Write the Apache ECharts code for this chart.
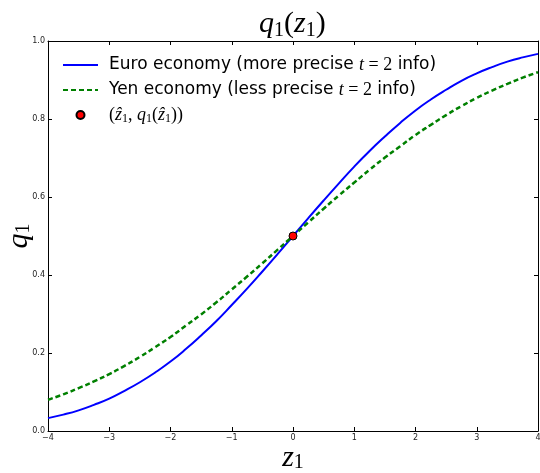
<!DOCTYPE html>
<html>
<head>
<meta charset="utf-8">
<script src="https://cdn.jsdelivr.net/npm/echarts@6/dist/echarts.min.js"></script>
<style>html,body{margin:0;padding:0;background:#fff}#c{width:540px;height:473px}</style>
</head>
<body>
<div id="c"></div>
<script>
const zValues = [-4, -3.75, -3.5, -3.25, -3, -2.75, -2.5, -2.25, -2, -1.75, -1.5, -1.25, -1, -0.75, -0.5, -0.25, 0,
  0.25, 0.5, 0.75, 1, 1.25, 1.5, 1.75, 2, 2.25, 2.5, 2.75, 3, 3.25, 3.5, 3.75, 4];
const euroQ = [0.033, 0.042, 0.053, 0.067, 0.083, 0.103, 0.125, 0.150, 0.178, 0.210, 0.245, 0.282, 0.323, 0.365, 0.409, 0.454, 0.500,
  0.546, 0.591, 0.635, 0.678, 0.718, 0.755, 0.790, 0.822, 0.850, 0.875, 0.898, 0.917, 0.933, 0.947, 0.958, 0.967];
const yenQ = [0.080, 0.094, 0.110, 0.127, 0.146, 0.167, 0.190, 0.215, 0.241, 0.270, 0.299, 0.330, 0.363, 0.396, 0.430, 0.465, 0.500,
  0.535, 0.570, 0.604, 0.637, 0.670, 0.701, 0.730, 0.759, 0.785, 0.810, 0.833, 0.854, 0.873, 0.890, 0.906, 0.920];
const pointZ = [0];
const pointQ = [0.5];
const xTickLabels = ['\u22124', '\u22123', '\u22122', '\u22121', '0', '1', '2', '3', '4'];
const yTickLabels = ['0.0', '0.2', '0.4', '0.6', '0.8', '1.0'];

const serif = "'Liberation Serif', 'DejaVu Serif', serif";
const sans = "'DejaVu Sans', sans-serif";

const chart = echarts.init(document.getElementById('c'), null, {renderer: 'canvas'});

const legendLabels = {
  'Euro': '{n|Euro economy (more precise }{m|t}{r| = 2}{n| info)}',
  'Yen': '{n|Yen economy (less precise }{m|t}{r| = 2}{n| info)}',
  'Point': '{r|(}{m|\u1E91}{s|1}{r|, }{m|q}{s|1}{r|(}{m|\u1E91}{s|1}{r|))}'
};

const axisCommon = {
  type: 'value',
  axisLine: {show: true, onZero: false, lineStyle: {color: '#000', width: 1}},
  axisTick: {show: true, inside: true, length: 4, lineStyle: {color: '#000', width: 1}},
  splitLine: {show: false}
};

chart.setOption({
  animation: false,
  backgroundColor: '#fff',
  title: {
    text: '{m|q}{s|1}{r|(}{m|z}{s|1}{r|)}',
    left: 254,
    top: 3,
    textStyle: {
      fontWeight: 'normal',
      rich: {
        m: {fontFamily: serif, fontStyle: 'italic', fontWeight: 'normal', fontSize: 30, lineHeight: 33, color: '#000'},
        r: {fontFamily: serif, fontWeight: 'normal', fontSize: 30, lineHeight: 33, color: '#000'},
        s: {fontFamily: serif, fontWeight: 'normal', fontSize: 20, lineHeight: 16, verticalAlign: 'bottom', color: '#000'}
      }
    }
  },
  grid: {left: 48, right: 2, top: 41, bottom: 42, containLabel: false, outerBoundsMode: 'none'},
  legend: {
    orient: 'vertical',
    left: 62,
    top: 55,
    padding: 0,
    itemWidth: 35,
    itemHeight: 8,
    itemGap: 5,
    data: [
      {name: 'Euro', itemStyle: {opacity: 0}},
      {name: 'Yen', itemStyle: {opacity: 0}},
      {name: 'Point', icon: 'circle'}
    ],
    formatter: name => legendLabels[name],
    textStyle: {
      padding: [0, 0, 0, 6],
      lineHeight: 20,
      rich: {
        n: {fontFamily: sans, fontSize: 17, lineHeight: 20, color: '#000'},
        r: {fontFamily: serif, fontSize: 18, lineHeight: 20, color: '#000'},
        m: {fontFamily: serif, fontStyle: 'italic', fontSize: 18, lineHeight: 20, color: '#000'},
        s: {fontFamily: serif, fontSize: 12, lineHeight: 12, verticalAlign: 'bottom', color: '#000'}
      }
    }
  },
  xAxis: [
    Object.assign({}, axisCommon, {
      min: -4, max: 4, interval: 1, position: 'bottom',
      axisLabel: {show: true, fontFamily: sans, fontSize: 8, color: '#222', margin: 3,
        formatter: v => xTickLabels[Math.round(v) + 4]},
      name: '{m|z}{s|1}',
      nameLocation: 'middle',
      nameGap: 12,
      nameMoveOverlap: false,
      nameTextStyle: {
        rich: {
          m: {fontFamily: serif, fontStyle: 'italic', fontSize: 30, lineHeight: 30, color: '#000'},
          s: {fontFamily: serif, fontSize: 20, lineHeight: 16, verticalAlign: 'bottom', color: '#000'}
        }
      }
    }),
    Object.assign({}, axisCommon, {
      min: -4, max: 4, interval: 1, position: 'top',
      axisLabel: {show: false}
    })
  ],
  yAxis: [
    Object.assign({}, axisCommon, {
      min: 0, max: 1, interval: 0.2, position: 'left',
      axisLabel: {show: true, fontFamily: sans, fontSize: 8, color: '#222', margin: 3,
        formatter: v => yTickLabels[Math.round(v * 5)]},
      name: '{m|q}{s|1}',
      nameLocation: 'middle',
      nameGap: 14,
      nameMoveOverlap: false,
      nameRotate: 90,
      nameTextStyle: {
        rich: {
          m: {fontFamily: serif, fontStyle: 'italic', fontSize: 30, lineHeight: 30, color: '#000'},
          s: {fontFamily: serif, fontSize: 20, lineHeight: 16, verticalAlign: 'bottom', color: '#000'}
        }
      }
    }),
    Object.assign({}, axisCommon, {
      min: 0, max: 1, interval: 0.2, position: 'right',
      axisLabel: {show: false}
    })
  ],
  series: [
    {
      name: 'Euro', type: 'line', xAxisIndex: 0, yAxisIndex: 0,
      data: zValues.map((z, i) => [z, euroQ[i]]),
      smooth: true, symbol: 'none', showSymbol: false,
      lineStyle: {color: '#0000ff', width: 2},
      itemStyle: {color: '#0000ff'},
      z: 2
    },
    {
      name: 'Yen', type: 'line', xAxisIndex: 0, yAxisIndex: 0,
      data: zValues.map((z, i) => [z, yenQ[i]]),
      smooth: true, symbol: 'none', showSymbol: false,
      lineStyle: {color: '#008000', width: 2.5, type: [5, 3]},
      itemStyle: {color: '#008000'},
      z: 3
    },
    {
      name: 'Point', type: 'scatter', xAxisIndex: 0, yAxisIndex: 0,
      data: pointZ.map((z, i) => [z, pointQ[i]]),
      symbol: 'circle', symbolSize: 8,
      itemStyle: {color: '#ff0000', borderColor: '#000', borderWidth: 1, opacity: 1},
      z: 4
    }
  ]
});
</script>
</body>
</html>
